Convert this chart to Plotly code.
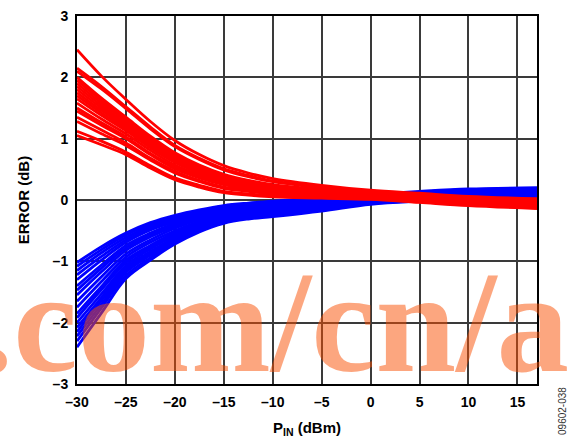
import plotly.graph_objects as go

# ---- data -------------------------------------------------------------
p_in = [-30, -27.5, -25, -22.5, -20, -17.5, -15, -12.5, -10, -5, 0, 5, 10, 17]

red_curves = [
    [2.45, 2.02, 1.64, 1.28, 0.97, 0.74, 0.56, 0.44, 0.35, 0.24, 0.16, 0.11, 0.06, 0.02],
    [2.15, 1.85, 1.52, 1.19, 0.89, 0.68, 0.51, 0.40, 0.31, 0.21, 0.14, 0.09, 0.04, 0.00],
    [2.10, 1.81, 1.49, 1.16, 0.87, 0.66, 0.49, 0.38, 0.30, 0.20, 0.13, 0.08, 0.03, -0.01],
    [2.00, 1.66, 1.35, 1.04, 0.77, 0.57, 0.42, 0.32, 0.25, 0.17, 0.11, 0.06, 0.01, -0.03],
    [1.95, 1.62, 1.32, 1.01, 0.74, 0.55, 0.40, 0.31, 0.24, 0.16, 0.11, 0.06, 0.01, -0.04],
    [1.90, 1.58, 1.29, 0.98, 0.72, 0.53, 0.39, 0.30, 0.23, 0.16, 0.10, 0.05, 0.00, -0.04],
    [1.85, 1.54, 1.25, 0.95, 0.70, 0.51, 0.37, 0.29, 0.22, 0.15, 0.10, 0.05, 0.00, -0.05],
    [1.80, 1.50, 1.22, 0.93, 0.67, 0.49, 0.36, 0.27, 0.21, 0.14, 0.09, 0.04, -0.01, -0.05],
    [1.75, 1.46, 1.19, 0.90, 0.65, 0.48, 0.34, 0.26, 0.20, 0.13, 0.08, 0.03, -0.02, -0.06],
    [1.70, 1.42, 1.16, 0.87, 0.63, 0.46, 0.32, 0.25, 0.19, 0.13, 0.08, 0.03, -0.02, -0.07],
    [1.65, 1.38, 1.13, 0.85, 0.61, 0.44, 0.31, 0.23, 0.18, 0.12, 0.07, 0.02, -0.03, -0.07],
    [1.58, 1.32, 1.08, 0.81, 0.57, 0.41, 0.29, 0.22, 0.16, 0.11, 0.07, 0.02, -0.03, -0.08],
    [1.50, 1.26, 1.03, 0.76, 0.54, 0.38, 0.26, 0.20, 0.15, 0.10, 0.06, 0.01, -0.04, -0.09],
    [1.45, 1.22, 1.00, 0.74, 0.51, 0.36, 0.25, 0.18, 0.14, 0.09, 0.05, 0.00, -0.05, -0.09],
    [1.35, 1.14, 0.93, 0.68, 0.47, 0.32, 0.21, 0.16, 0.11, 0.08, 0.04, -0.01, -0.06, -0.11],
    [1.28, 1.08, 0.89, 0.65, 0.44, 0.30, 0.19, 0.14, 0.10, 0.06, 0.04, -0.02, -0.07, -0.11],
    [1.12, 0.96, 0.78, 0.56, 0.36, 0.24, 0.14, 0.10, 0.07, 0.04, 0.02, -0.03, -0.08, -0.13],
    [1.05, 0.90, 0.74, 0.52, 0.33, 0.21, 0.12, 0.08, 0.05, 0.03, 0.01, -0.04, -0.09, -0.14],
]

blue_curves = [
    [-1.02, -0.76, -0.54, -0.37, -0.25, -0.16, -0.09, -0.05, -0.02, 0.04, 0.09, 0.14, 0.18, 0.20],
    [-1.08, -0.81, -0.57, -0.40, -0.27, -0.18, -0.10, -0.06, -0.03, 0.03, 0.08, 0.13, 0.17, 0.19],
    [-1.15, -0.86, -0.61, -0.43, -0.29, -0.19, -0.12, -0.07, -0.04, 0.02, 0.08, 0.12, 0.16, 0.18],
    [-1.22, -0.92, -0.65, -0.46, -0.32, -0.21, -0.13, -0.09, -0.06, 0.01, 0.07, 0.12, 0.16, 0.17],
    [-1.30, -0.98, -0.69, -0.49, -0.35, -0.23, -0.15, -0.10, -0.07, 0.00, 0.06, 0.11, 0.15, 0.16],
    [-1.40, -1.06, -0.74, -0.54, -0.38, -0.26, -0.17, -0.12, -0.09, -0.02, 0.05, 0.10, 0.13, 0.15],
    [-1.47, -1.11, -0.78, -0.57, -0.40, -0.28, -0.18, -0.13, -0.10, -0.03, 0.04, 0.09, 0.12, 0.14],
    [-1.55, -1.17, -0.82, -0.60, -0.43, -0.30, -0.20, -0.15, -0.12, -0.04, 0.03, 0.08, 0.11, 0.13],
    [-1.65, -1.25, -0.88, -0.65, -0.46, -0.32, -0.22, -0.17, -0.13, -0.06, 0.02, 0.07, 0.10, 0.12],
    [-1.75, -1.33, -0.93, -0.69, -0.50, -0.35, -0.24, -0.19, -0.15, -0.08, 0.01, 0.06, 0.09, 0.10],
    [-1.85, -1.41, -0.98, -0.74, -0.53, -0.38, -0.26, -0.21, -0.17, -0.09, -0.01, 0.04, 0.08, 0.09],
    [-1.92, -1.46, -1.02, -0.77, -0.56, -0.39, -0.28, -0.22, -0.18, -0.10, -0.01, 0.04, 0.07, 0.08],
    [-2.00, -1.53, -1.07, -0.80, -0.58, -0.42, -0.30, -0.23, -0.20, -0.12, -0.02, 0.03, 0.06, 0.07],
    [-2.08, -1.59, -1.11, -0.84, -0.61, -0.44, -0.31, -0.25, -0.21, -0.13, -0.03, 0.02, 0.05, 0.06],
    [-2.15, -1.64, -1.15, -0.87, -0.63, -0.45, -0.33, -0.26, -0.22, -0.14, -0.04, 0.01, 0.04, 0.05],
    [-2.22, -1.70, -1.18, -0.90, -0.66, -0.47, -0.34, -0.28, -0.24, -0.15, -0.05, 0.00, 0.03, 0.04],
    [-2.30, -1.76, -1.23, -0.94, -0.69, -0.49, -0.36, -0.29, -0.25, -0.16, -0.06, -0.01, 0.02, 0.03],
    [-2.40, -1.84, -1.28, -0.98, -0.72, -0.52, -0.38, -0.31, -0.27, -0.18, -0.07, -0.02, 0.01, 0.02],
]

x_tickvals = [-30, -25, -20, -15, -10, -5, 0, 5, 10, 15]
x_ticktext = ["\u201330", "\u201325", "\u201320", "\u201315", "\u201310", "\u20135", "0", "5", "10", "15"]
y_tickvals = [-3, -2, -1, 0, 1, 2, 3]
y_ticktext = ["\u20133", "\u20132", "\u20131", "0", "1", "2", "3"]

x_title = "P<sub>IN</sub> (dBm)"
y_title = "ERROR (dB)"
figure_id = "09602-038"
watermark = ".com/cn/ad"

# ---- figure -----------------------------------------------------------
fig = go.Figure()
for ys in blue_curves:
    fig.add_trace(go.Scatter(x=p_in, y=ys, mode="lines",
                             line=dict(color="#0000FF", width=2.8, shape="spline"),
                             showlegend=False, hoverinfo="skip"))
for ys in red_curves:
    fig.add_trace(go.Scatter(x=p_in, y=ys, mode="lines",
                             line=dict(color="#FF0000", width=2.8, shape="spline"),
                             showlegend=False, hoverinfo="skip"))

tick_font = dict(family="Liberation Sans, Arial, sans-serif", size=14, color="black", weight="bold")
title_font = dict(family="Liberation Sans, Arial, sans-serif", size=15, color="black", weight="bold")

fig.update_layout(
    width=573, height=438,
    margin=dict(l=77, r=36, t=16, b=54),
    paper_bgcolor="white", plot_bgcolor="white",
    xaxis=dict(range=[-30, 17], tickmode="array", tickvals=x_tickvals, ticktext=x_ticktext,
               showgrid=True, gridcolor="#3a3a3a", gridwidth=1.5, zeroline=False,
               showline=True, linecolor="black", linewidth=2, mirror=True,
               ticks="", tickfont=tick_font, ticklabelstandoff=4, automargin=False,
               title=dict(text=x_title, font=title_font, standoff=14)),
    yaxis=dict(range=[-3, 3], tickmode="array", tickvals=y_tickvals, ticktext=y_ticktext,
               showgrid=True, gridcolor="#3a3a3a", gridwidth=1.5, zeroline=False,
               showline=True, linecolor="black", linewidth=2, mirror=True,
               ticks="", tickfont=tick_font, ticklabelstandoff=4, automargin=False,
               title=dict(text=y_title, font=title_font, standoff=19)),
    annotations=[
        dict(text=watermark, xref="paper", yref="paper", x=-0.2217, y=0.168,
             xanchor="left", yanchor="middle", showarrow=False,
             font=dict(family="Liberation Serif, Times New Roman, serif", size=145,
                       color="rgba(250,77,0,0.5)", weight="bold")),
        dict(text=figure_id, xref="paper", yref="paper", x=1.0543, y=-0.0734,
             xanchor="center", yanchor="middle", textangle=-90, showarrow=False,
             font=dict(family="Liberation Sans, Arial, sans-serif", size=10, color="#333333")),
    ],
)

fig.write_html("out.html", config={"displayModeBar": False},
               post_script="document.body.style.margin='0';document.body.style.overflow='hidden';")
